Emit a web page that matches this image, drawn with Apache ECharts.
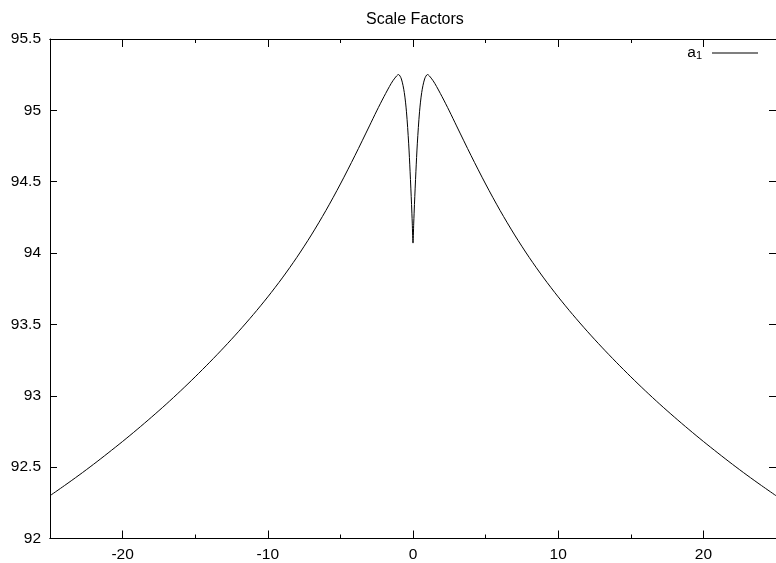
<!DOCTYPE html>
<html>
<head>
<meta charset="utf-8">
<script src="https://cdn.jsdelivr.net/npm/echarts@6/dist/echarts.min.js"></script>
<style>html,body{margin:0;padding:0;background:#fff}#c{width:776px;height:563px}</style>
</head>
<body>
<div id="c"></div>
<script>
// ---- data ----
var xValues = [-25,-24,-23,-22,-21,-20,-19,-18,-17,-16,-15,-14,-13,-12,-11,-10,-9,-8,-7,-6,-5,-4,-3,-2.5,-2,-1.5,-1.25,-1,-0.8,-0.6,-0.45,-0.3,-0.2,-0.1,-0.05,
  0,
  0.05,0.1,0.2,0.3,0.45,0.6,0.8,1,1.25,1.5,2,2.5,3,4,5,6,7,8,9,10,11,12,13,14,15,16,17,18,19,20,21,22,23,24,25];
var a1Values = [92.30,92.371,92.444,92.52,92.599,92.68,92.764,92.851,92.941,93.035,93.133,93.235,93.341,93.452,93.569,93.693,93.826,93.97,94.127,94.298,94.484,94.683,94.891,94.996,95.096,95.189,95.226,95.251,95.22,95.125,94.99,94.77,94.57,94.34,94.21,
  94.07,
  94.21,94.34,94.57,94.77,94.99,95.125,95.22,95.251,95.226,95.189,95.096,94.996,94.891,94.683,94.484,94.298,94.127,93.97,93.826,93.693,93.569,93.452,93.341,93.235,93.133,93.035,92.941,92.851,92.764,92.68,92.599,92.52,92.444,92.371,92.30];
var xMajorTicks = [-20,-10,0,10,20];
var xMinorTicks = [-15,-5,5,15];
var yTicks = [92,92.5,93,93.5,94,94.5,95,95.5];
var titleText = 'Scale Factors';
var seriesName = 'a1';

var pts = xValues.map(function(x,i){return [x,a1Values[i]];});
var FONT = 'Liberation Sans, Arial, Helvetica, sans-serif';
var FS = 15.5;

function xAx(pos, ticks, len, labels){
  return {type:'value', position:pos, min:-25, max:25,
    axisLine:{show:true, onZero:false, lineStyle:{color:'#000', width:1}},
    axisTick:{show:true, inside:true, length:len, customValues:ticks, lineStyle:{color:'#000', width:1}},
    axisLabel:{show:labels, customValues:ticks, color:'#000', fontSize:FS, fontFamily:FONT, margin:8,
      formatter:function(v){return String(v);}},
    splitLine:{show:false}};
}
function yAx(pos, labels){
  return {type:'value', position:pos, min:92, max:95.5,
    axisLine:{show:true, onZero:false, lineStyle:{color:'#000', width:1}},
    axisTick:{show:true, inside:true, length:7, customValues:yTicks, lineStyle:{color:'#000', width:1}},
    axisLabel:{show:labels, customValues:yTicks, color:'#000', fontSize:FS, fontFamily:FONT, margin:9,
      formatter:function(v){return String(v);}},
    splitLine:{show:false}};
}

var chart = echarts.init(document.getElementById('c'), null, {renderer:'canvas'});
chart.setOption({
  animation:false,
  backgroundColor:'#fff',
  title:{text:titleText, left:361, top:7,
    textStyle:{color:'#000', fontSize:16, fontWeight:'normal', fontFamily:FONT}},
  legend:{show:true, right:13, top:40, align:'right', itemWidth:46, itemHeight:1, itemGap:0,
    icon:'rect', data:[seriesName],
    formatter:function(){return '{a|a}{s|1}';},
    textStyle:{color:'#000', fontFamily:FONT, fontSize:FS, padding:[0,5,0,0],
      rich:{a:{fontSize:FS, fontFamily:FONT, color:'#000'}, s:{fontSize:11, fontFamily:FONT, color:'#000', verticalAlign:'bottom', padding:[6,0,0,0]}}}},
  grid:{left:50, right:-1, top:39, bottom:24.5, containLabel:false},
  xAxis:[xAx('bottom', xMajorTicks, 8, true), xAx('bottom', xMinorTicks, 4, false),
         xAx('top', xMajorTicks, 8, false), xAx('top', xMinorTicks, 4, false)],
  yAxis:[yAx('left', true), yAx('right', false)],
  series:[{name:seriesName, type:'line', xAxisIndex:0, yAxisIndex:0, data:pts,
    showSymbol:false, smooth:0.3,
    lineStyle:{color:'#000', width:1}, itemStyle:{color:'#000'}}]
});
</script>
</body>
</html>
